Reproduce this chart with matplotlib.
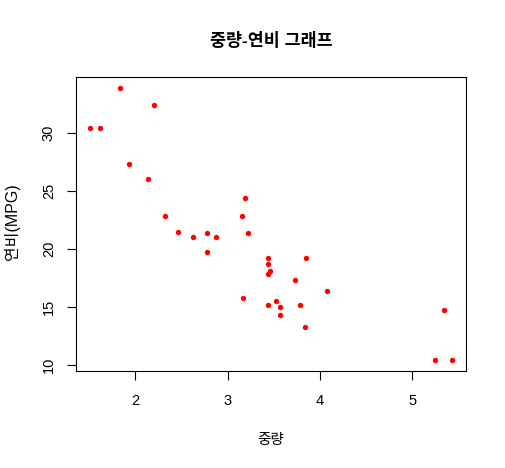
import matplotlib
matplotlib.use("Agg")
import matplotlib.pyplot as plt

plt.rcParams['font.family'] = ['Liberation Sans', 'Noto Sans CJK KR', 'DejaVu Sans']

wt = [2.620, 2.875, 2.320, 3.215, 3.440, 3.460, 3.570, 3.190, 3.150, 3.440,
      3.440, 4.070, 3.730, 3.780, 5.250, 5.424, 5.345, 2.200, 1.615, 1.835,
      2.465, 3.520, 3.435, 3.840, 3.845, 1.935, 2.140, 1.513, 3.170, 2.770,
      3.570, 2.780]
mpg = [21.0, 21.0, 22.8, 21.4, 18.7, 18.1, 14.3, 24.4, 22.8, 19.2,
       17.8, 16.4, 17.3, 15.2, 10.4, 10.4, 14.7, 32.4, 30.4, 33.9,
       21.5, 15.5, 15.2, 13.3, 19.2, 27.3, 26.0, 30.4, 15.8, 19.7,
       15.0, 21.4]
xticks = [2, 3, 4, 5]
yticks = [10, 15, 20, 25, 30]

W, H = 506, 468
fig = plt.figure(figsize=(W/100, H/100), dpi=100)
ax = fig.add_axes([76/W, 1-371/H, (466-76)/W, (371-77)/H])
ax.scatter(wt, mpg, s=15, color='red', linewidths=0, zorder=3)

xr = max(wt) - min(wt)
yr = max(mpg) - min(mpg)
ax.set_xlim(min(wt) - 0.04*xr, max(wt) + 0.04*xr)
ax.set_ylim(min(mpg) - 0.04*yr, max(mpg) + 0.04*yr)
ax.set_xticks(xticks)
ax.set_yticks(yticks)
ax.set_xticklabels([str(t) for t in xticks], fontsize=10.5)
ax.set_yticklabels([str(t) for t in yticks], fontsize=10.5, rotation=90, va='center')
ax.tick_params(axis='x', direction='out', length=6.5, width=0.8, pad=10, color='black')
ax.tick_params(axis='y', direction='out', length=6.5, width=0.8, pad=8, color='black')
for s in ax.spines.values():
    s.set_linewidth(0.8)

fig.text(271/W, 1-40/H, '중량-연비 그래프', ha='center', va='center', fontsize=12.5, fontweight='bold')
fig.text(271/W, 1-440/H, '중량', ha='center', va='center', fontsize=10.5)
fig.text(12/W, 1-222/H, '연비(MPG)', ha='center', va='center', fontsize=11.5, rotation=90)

fig.savefig('out.png', dpi=100)
